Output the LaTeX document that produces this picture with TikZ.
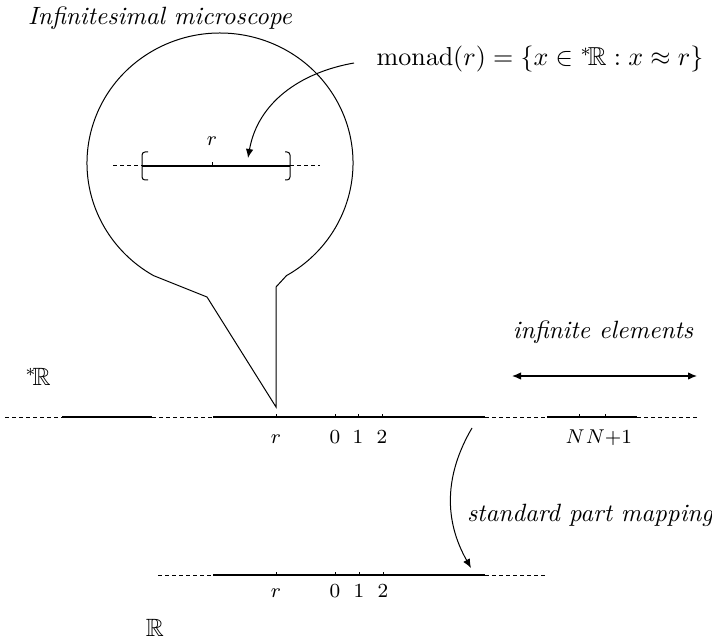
\documentclass[tikz,border=0pt]{standalone}
\usepackage{amssymb}
\usetikzlibrary{arrows.meta}
\tikzset{
  axis-solid/.style={line width=0.45pt},
  axis-dashed/.style={line width=0.4pt,dash pattern=on 1.6pt off 1.2pt},
  axis-tick/.style={line width=0.4pt},
  tick-label/.style={font=\footnotesize,anchor=base,inner sep=0pt},
  arrow-map/.style={-{Latex[length=3.6pt,width=3pt]},line width=0.4pt},
  arrow-both/.style={{Latex[length=3.6pt,width=3pt]}-{Latex[length=3.6pt,width=3pt]},line width=0.5pt},
  balloon/.style={line width=0.4pt},
}
\newcommand{\hyperR}{{}^{*}\!\mathbb{R}}
\begin{document}
\begin{tikzpicture}[x=0.4pt,y=0.4pt]
  \useasboundingbox (0,0) rectangle (712,641);

  % hyperreal line
  \draw[axis-dashed] (5,224) -- (62,224);
  \draw[axis-solid]  (62,224) -- (152,224);
  \draw[axis-dashed] (152,224) -- (213,224);
  \draw[axis-solid]  (213,224) -- (485,224);
  \draw[line width=1pt] (213,224) -- (222,224);
  \draw[axis-dashed] (485,224) -- (547,224);
  \draw[axis-solid]  (547,224) -- (637,224);
  \draw[axis-dashed] (637,224) -- (700,224);
  \foreach \x in {276,335,358,382,579,605}
    \draw[axis-tick] (\x,224) -- (\x,227.5);
  \foreach \x/\t in {276/r,335/0,358/1,382/2}
    \node[tick-label] (hr-\t) at (\x,198) {$\t$};
  \node[tick-label] (hr-N)  at (575,198) {$N$};
  \node[tick-label] (hr-N1) at (609,198) {$N{+}1$};
  \node (hr-name) at (38,264) {$\hyperR$};

  % real line
  \draw[axis-dashed] (158,66) -- (213,66);
  \draw[axis-solid]  (213,66) -- (485,66);
  \draw[line width=1pt] (213,66) -- (222,66);
  \draw[axis-dashed] (485,66) -- (545,66);
  \foreach \x in {276,335,359,383}
    \draw[axis-tick] (\x,66) -- (\x,69.5);
  \foreach \x/\t in {276/r,335/0,359/1,383/2}
    \node[tick-label] (re-\t) at (\x,44) {$\t$};
  \node (re-name) at (155,13) {$\mathbb{R}$};

  % microscope
  \draw[balloon] (276,234) -- (276,354) -- (286.5,365.4)
    arc[start angle=-60,end angle=240,x radius=133,y radius=130]
    -- (207,344) -- cycle;
  \node[font=\itshape] (scope) at (160,623) {Infinitesimal microscope};
  \draw[axis-dashed] (113,475) -- (142,475);
  \draw[axis-solid]  (142,475) -- (290,475);
  \draw[axis-dashed] (290,475) -- (320,475);
  \draw[balloon,rounded corners=1.2pt] (148,489) -- (142,489) -- (142,461) -- (148,461);
  \draw[balloon,rounded corners=1.2pt] (285,489) -- (290,489) -- (290,461) -- (285,461);
  \draw[axis-tick] (212,475) -- (212,478.5);
  \node[tick-label] (mo-r) at (212,495) {$r$};

  % monad
  \node[scale=1.04] (monad) at (540,582) {$\mathrm{monad}(r)=\{x\in\hyperR:x\approx r\}$};
  \coordinate (m-start) at (354,578);
  \coordinate (m-tip) at (248,483);
  \draw[arrow-map] (m-start) to[out=190,in=80] (m-tip);

  % infinite elements
  \node[font=\itshape] (infinite) at (603,309) {infinite elements};
  \coordinate (inf-l) at (512,265);
  \coordinate (inf-r) at (697,265);
  \draw[arrow-both] (inf-l) -- (inf-r);

  % standard part
  \node[font=\itshape] (stdpart) at (590,126) {standard part mapping};
  \coordinate (st-from) at (472,213);
  \coordinate (st-to) at (471,73);
  \draw[arrow-map] (st-from) to[bend right=30] (st-to);
\end{tikzpicture}
\end{document}
